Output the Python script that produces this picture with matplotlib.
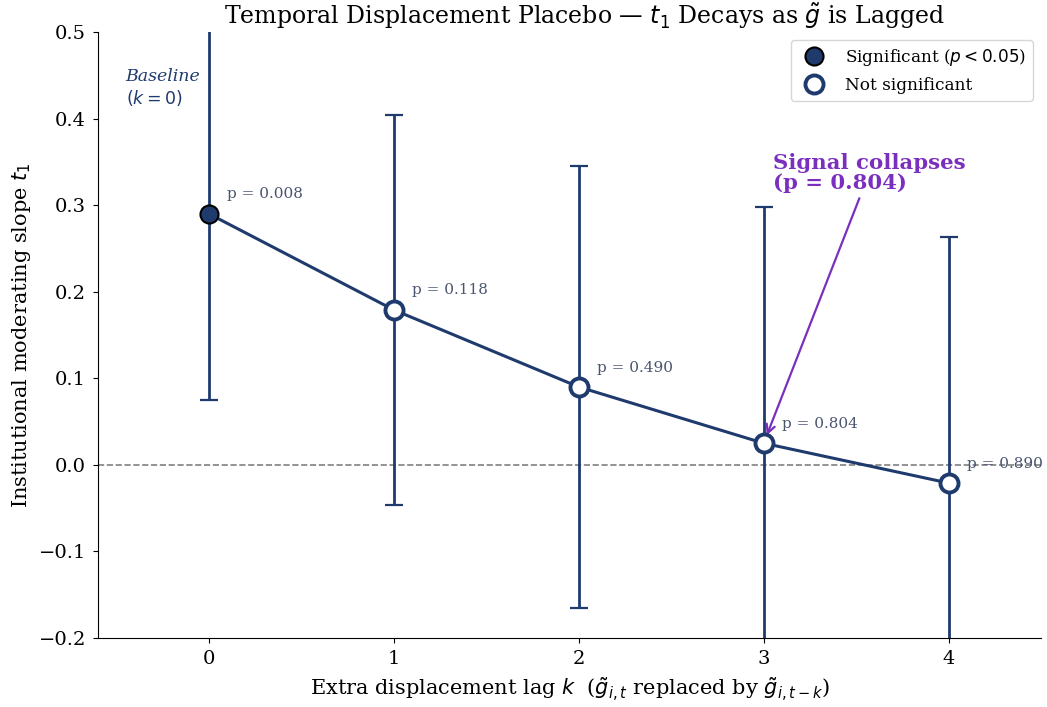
import numpy as np
import matplotlib
matplotlib.use('Agg')
import matplotlib.pyplot as plt

plt.rcParams['font.family'] = 'DejaVu Serif'

# data
lags = [0, 1, 2, 3, 4]
slopes = [0.290, 0.179, 0.090, 0.025, -0.021]
ci_half = [0.215, 0.225, 0.255, 0.273, 0.284]
pvals = [0.008, 0.118, 0.490, 0.804, 0.890]

navy = '#1f3b6e'
purple = '#7b2fbe'
ptxt = '#4a5570'

fig = plt.figure(figsize=(10.47, 7.07), dpi=100)
ax = fig.add_axes([0.0936, 0.0976, 0.9007, 0.8571])

ax.axhline(0, color='gray', ls='--', lw=1.2, zorder=1)

ax.errorbar(lags, slopes, yerr=ci_half, fmt='none', ecolor=navy, elinewidth=2,
            capsize=6.5, capthick=1.6, zorder=2)
ax.plot(lags, slopes, color=navy, lw=2.2, zorder=3)

for k, s, p in zip(lags, slopes, pvals):
    if p < 0.05:
        ax.plot(k, s, 'o', ms=13, mfc=navy, mec='black', mew=1.5, zorder=4)
    else:
        ax.plot(k, s, 'o', ms=13, mfc='white', mec=navy, mew=2.8, zorder=4)
    ax.annotate(f'p = {p:.3f}', xy=(k, s), xytext=(13, 14), textcoords='offset points',
                ha='left', va='center', fontsize=11, color=ptxt, zorder=5)

# legend handles
ax.plot([], [], 'o', ms=13, mfc=navy, mec='black', mew=1.5, ls='none',
        label='Significant ($p < 0.05$)')
ax.plot([], [], 'o', ms=13, mfc='white', mec=navy, mew=2.8, ls='none',
        label='Not significant')
ax.legend(loc='upper right', fontsize=12.2, borderpad=0.4)

ax.text(-0.45, 0.459, 'Baseline\n$(k=0)$', style='italic', color=navy,
        fontsize=12.5, ha='left', va='top')

ax.annotate('Signal collapses\n(p = 0.804)', xy=(3, slopes[3]), xytext=(3.05, 0.36),
            fontsize=15.3, fontweight='bold', color=purple, ha='left', va='top',
            linespacing=0.98,
            arrowprops=dict(arrowstyle='->', color=purple, lw=1.6, shrinkB=6))

ax.set_xlim(-0.6, 4.5)
ax.set_ylim(-0.2, 0.5)
ax.set_xticks(lags)
ax.tick_params(labelsize=14, pad=5)
ax.spines['top'].set_visible(False)
ax.spines['right'].set_visible(False)

ax.set_xlabel(r'Extra displacement lag $k$  ($\tilde{g}_{i,t}$ replaced by $\tilde{g}_{i,t-k}$)',
              fontsize=15, labelpad=6)
ax.set_ylabel('Institutional moderating slope $t_1$', fontsize=15)
ax.set_title(r'Temporal Displacement Placebo — $t_1$ Decays as $\tilde{g}$ is Lagged',
             fontsize=17, x=0.516)

fig.savefig('out.png', dpi=100)
